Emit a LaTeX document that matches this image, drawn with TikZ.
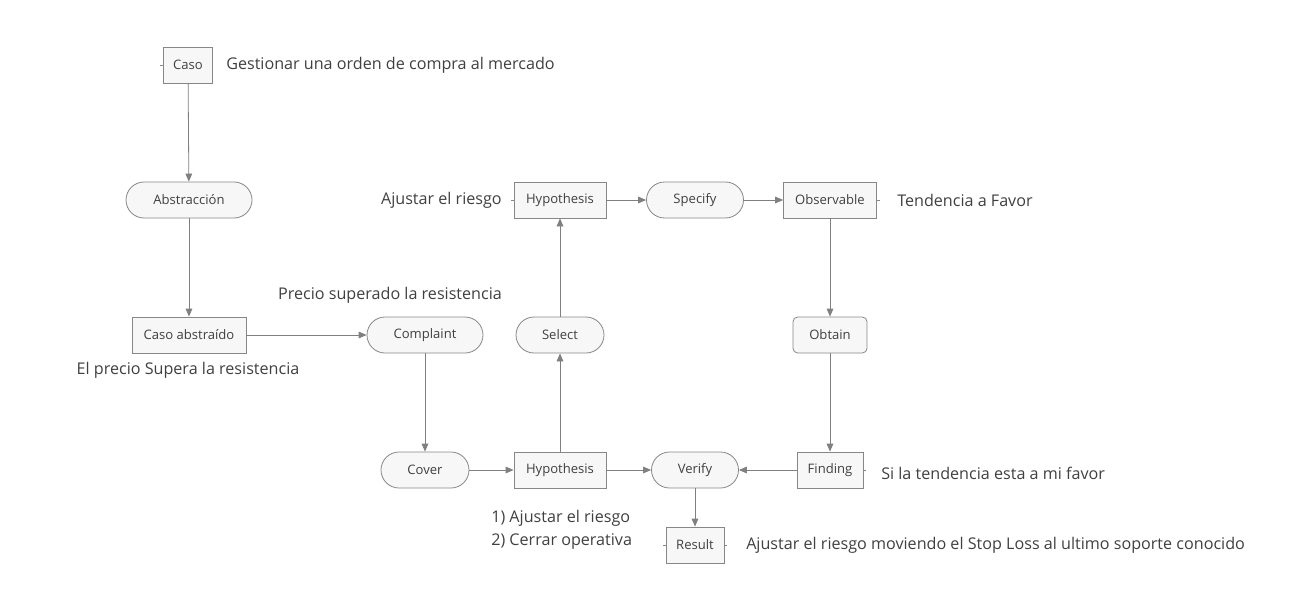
\documentclass[tikz,border=0pt]{standalone}
\usepackage{fontspec}
\setmainfont{Open Sans}
\usetikzlibrary{arrows.meta,positioning,calc}
\definecolor{linegray}{RGB}{128,128,128}
\definecolor{boxfill}{RGB}{247,247,247}
\definecolor{boxline}{RGB}{135,135,135}
\definecolor{txtgray}{RGB}{64,64,64}
\tikzset{
    boxnode/.style={draw=boxline, fill=boxfill, line width=0.6pt, text=txtgray, font=\fontsize{9.8}{11}\selectfont, inner sep=0pt, minimum height=27pt}, % square boxes
    pillnode/.style={boxnode, rounded corners=13.5pt}, % rounded ends
    roundnode/.style={boxnode, rounded corners=3.5pt},
    notenode/.style={text=txtgray, font=\fontsize{12.1}{17.3}\selectfont, inner sep=0pt},
    conn/.style={draw=linegray, line width=0.6pt, -{Triangle[length=6pt,width=5pt]}},
    stub/.style={draw=boxline, line width=0.6pt},
}
\begin{document}
\begin{tikzpicture}[x=0.75pt,y=0.75pt,yscale=-1,xscale=1]
		\useasboundingbox (0,0) rectangle (1301,606);
		
		% Text Node
		\node [boxnode, minimum width=36.75pt] (caso) at (188,65) {Caso};
		\node [pillnode, minimum width=94.5pt] (abst) at (189,200) {Abstracción};
		\node [boxnode, minimum width=85.5pt] (casoabs) at (189,335) {Caso abstraído};
		\node [pillnode, minimum width=87pt] (complaint) at (425,335) {Complaint};
		\node [pillnode, minimum width=66pt] (cover) at (425,470) {Cover};
		\node [boxnode, minimum width=69pt] (hypbot) at (560,470) {Hypothesis};
		\node [pillnode, minimum width=66pt] (select) at (560,335) {Select};
		\node [boxnode, minimum width=69pt] (hyptop) at (560,200) {Hypothesis};
		\node [pillnode, minimum width=72.75pt] (specify) at (695,200) {Specify};
		\node [boxnode, minimum width=69.75pt] (observ) at (830,200) {Observable};
		\node [roundnode, minimum width=55.5pt] (obtain) at (830,335) {Obtain};
		\node [boxnode, minimum width=49.5pt] (finding) at (830,470) {Finding};
		\node [pillnode, minimum width=65.25pt] (verify) at (695,470) {Verify};
		\node [boxnode, minimum width=43.5pt] (result) at (695,545) {Result};
		
		% Notes
		\node [notenode, anchor=west] (nocaso) at (226,65) {Gestionar una orden de compra al mercado};
		\node [notenode, anchor=east] (nohyptop) at (502,200) {Ajustar el riesgo};
		\node [notenode, anchor=west] (noobserv) at (897,200) {Tendencia a Favor};
		\node [notenode] (nocomplaint) at (390,295) {Precio superado la resistencia};
		\node [notenode] (nocasoabs) at (188,370) {El precio Supera la resistencia};
		\node [notenode, anchor=west] (nofinding) at (881,473) {Si la tendencia esta a mi favor};
		\node [notenode, anchor=west, align=left] (nohypbot) at (491,529.5) {1) Ajustar el riesgo\\2) Cerrar operativa};
		\node [notenode, anchor=west] (noresult) at (746,545) {Ajustar el riesgo moviendo el Stop Loss al ultimo soporte conocido};
		
		% Connection
		\draw [conn] (caso) -- (abst);
		\draw [conn] (abst) -- (casoabs);
		\draw [conn] (casoabs) -- (complaint);
		\draw [conn] (complaint) -- (cover);
		\draw [conn] (cover) -- (hypbot);
		\draw [conn] (hypbot) -- (verify);
		\draw [conn] (hypbot) -- (select);
		\draw [conn] (select) -- (hyptop);
		\draw [conn] (hyptop) -- (specify);
		\draw [conn] (specify) -- (observ);
		\draw [conn] (observ) -- (obtain);
		\draw [conn] (obtain) -- (finding);
		\draw [conn] (finding) -- (verify);
		\draw [conn] (verify) -- (result);
		
		% Stubs toward the notes
		\draw [stub] (caso.west) -- ++(-3,0);
		\draw [stub] (hyptop.west) -- ++(-3,0);
		\draw [stub] (observ.east) -- ++(3,0);
		\draw [stub] (finding.east) -- ++(3,0);
		\draw [stub] (result.west) -- ++(-3,0);
		\draw [stub] (result.east) -- ++(3,0);
		
\end{tikzpicture}
\end{document}
